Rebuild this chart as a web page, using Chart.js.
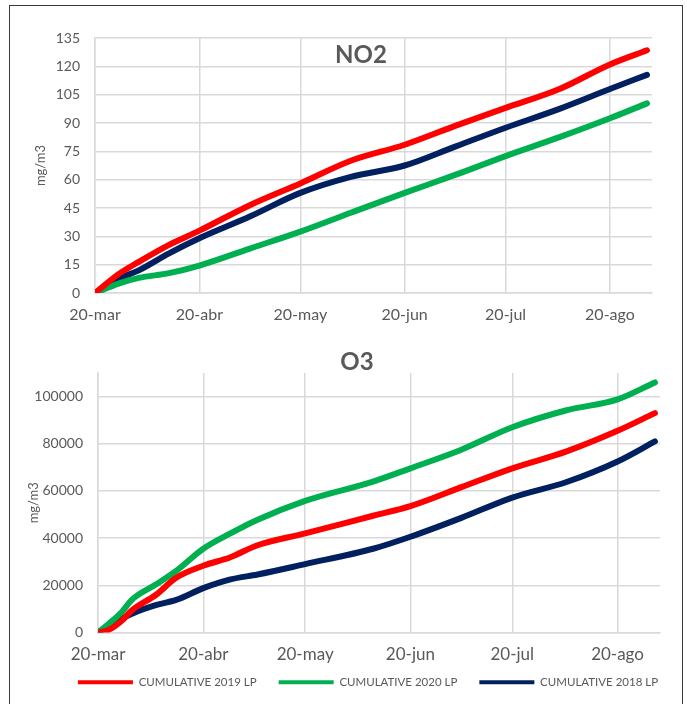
<!DOCTYPE html>
<html>
<head>
<meta charset="utf-8">
<script src="https://cdn.jsdelivr.net/npm/chart.js@4.4.1/dist/chart.umd.min.js"></script>
<style>
  html, body { margin: 0; padding: 0; background: #fff; overflow: hidden; width: 687px; height: 704px; }
  #frame { position: absolute; left: 9px; top: 5px; width: 674px; height: 720px; border: 1px solid #3a3a3a; box-sizing: border-box; z-index: 2; pointer-events: none; }
  #no2 { position: absolute; left: 0; top: 0; }
  #o3 { position: absolute; left: 0; top: 335px; }
</style>
</head>
<body>
<div id="frame"></div>
<canvas id="no2" width="687" height="335"></canvas>
<canvas id="o3" width="687" height="380"></canvas>
<script>
// x axis: days counted from 20-mar
const tickDays = [0, 31, 61, 92, 122, 153];
const tickLabels = ['20-mar', '20-abr', '20-may', '20-jun', '20-jul', '20-ago'];

// NO2
const no2Days = [0, 7, 13, 22, 31, 46, 61, 76, 92, 107, 122, 138, 153, 164];
const no2_2019 = [0, 10, 16.5, 25.5, 33, 46.5, 58, 70, 78.5, 88.5, 98, 108, 121, 128.5];
const no2_2020 = [0, 5, 8, 10.5, 14.5, 23.5, 32.5, 42.5, 53, 62.5, 72.5, 82.5, 92.5, 100.4];
const no2_2018 = [0, 7.5, 12, 21, 29, 40.5, 53, 61.5, 67.5, 77.5, 87.5, 97.5, 108, 115.5];
const no2Ticks = [0, 15, 30, 45, 60, 75, 90, 105, 120, 135];

// O3
const o3Days = [0, 3, 7, 10, 17, 23, 31, 39, 47, 61, 81, 92, 107, 122, 138, 153, 164];
const o3_2019 = [0, 1000, 5000, 9400, 15900, 23200, 28300, 31900, 37000, 42000, 49500, 53600, 61600, 69600, 76800, 85500, 93000];
const o3_2020 = [0, 3500, 8700, 13900, 20300, 26100, 35500, 42000, 47800, 55800, 64000, 69600, 77500, 87000, 94200, 98800, 106000];
const o3_2018 = [0, 2800, 5800, 8000, 11600, 13800, 18800, 22500, 24600, 29000, 35500, 40600, 48600, 57200, 63800, 72500, 81000];
const o3Ticks = [0, 20000, 40000, 60000, 80000, 100000];

const seriesNames = ['CUMULATIVE 2019 LP', 'CUMULATIVE 2020 LP', 'CUMULATIVE 2018 LP'];
const seriesColors = ['#ff0000', '#00b050', '#002060'];

const GRID = '#d9d9d9';
const TXT = '#595959';

const innerTitle = {
  id: 'innerTitle',
  afterDraw(chart, args, opts) {
    const ctx = chart.ctx;
    ctx.save();
    ctx.font = 'bold 24px Lato';
    ctx.fillStyle = TXT;
    ctx.textAlign = 'center';
    ctx.textBaseline = 'middle';
    ctx.fillText(opts.text, opts.x, opts.y);
    ctx.restore();
  }
};

// tick labels are clipped to their scale box, so give them room after layout;
// also nudge the legend to sit where the original has it
const labelRoom = {
  id: 'labelRoom',
  afterLayout(chart, args, opts) {
    chart.scales.y.left = 0;
    chart.scales.x.bottom = chart.scales.x.top + 40;
    if (chart.legend) {
      chart.legend.left += opts.legendShift;
      chart.legend.right += opts.legendShift;
    }
  }
};

function makeDatasets(days, lists) {
  return lists.map((vals, i) => ({
    label: seriesNames[i],
    data: days.map((d, j) => ({ x: d, y: vals[j] })),
    borderColor: seriesColors[i],
    backgroundColor: seriesColors[i],
    borderWidth: 6,
    pointRadius: 0,
    cubicInterpolationMode: 'monotone',
    borderCapStyle: 'round'
  }));
}

function xScale(fontSize, h) {
  return {
    type: 'linear', min: 0, max: 165.5,
    afterBuildTicks: s => { s.ticks = tickDays.map(v => ({ value: v })); },
    afterFit: s => { s.height = h; },
    grid: { color: GRID, lineWidth: 1.5, drawTicks: false },
    border: { color: GRID, width: 1.5 },
    ticks: {
      padding: 12, color: TXT, autoSkip: false, maxRotation: 0,
      font: { family: 'Lato', size: fontSize },
      callback: v => tickLabels[tickDays.indexOf(v)]
    }
  };
}

function yScale(max, tickVals, w, titlePad) {
  return {
    min: 0, max: max,
    afterBuildTicks: s => { s.ticks = tickVals.map(v => ({ value: v })); },
    afterFit: s => { s.width = w; },
    grid: { color: GRID, lineWidth: 1.5, drawTicks: false },
    border: { color: GRID, width: 1.5 },
    ticks: { padding: 15, color: TXT, font: { family: 'Lato', size: 14 }, callback: v => String(v) },
    title: { display: true, text: 'mg/m3', color: TXT, font: { family: 'Lato', size: 13 }, padding: { top: titlePad, bottom: 0 } }
  };
}

new Chart(document.getElementById('no2'), {
  type: 'line',
  data: { datasets: makeDatasets(no2Days, [no2_2019, no2_2020, no2_2018]) },
  plugins: [innerTitle],
  options: {
    responsive: false,
    animation: false,
    layout: { padding: { top: 38, right: 35, left: 0, bottom: 0 } },
    plugins: {
      legend: { display: false },
      tooltip: { enabled: false },
      innerTitle: { text: 'NO2', x: 361, y: 55 }
    },
    scales: { x: xScale(16, 42), y: yScale(135, no2Ticks, 95, 33) }
  }
});

new Chart(document.getElementById('o3'), {
  type: 'line',
  data: { datasets: makeDatasets(o3Days, [o3_2019, o3_2020, o3_2018]) },
  plugins: [innerTitle, labelRoom],
  options: {
    responsive: false,
    animation: false,
    layout: { padding: { top: 38, right: 27, left: 0, bottom: 17 } },
    plugins: {
      tooltip: { enabled: false },
      innerTitle: { text: 'O3', x: 357, y: 27 },
      labelRoom: { legendShift: 38 },
      legend: {
        position: 'bottom',
        labels: {
          boxWidth: 55, boxHeight: 4, padding: 22, color: TXT,
          font: { family: 'Lato', size: 11.5 },
          generateLabels: chart => Chart.defaults.plugins.legend.labels.generateLabels(chart)
            .map(l => Object.assign(l, { lineWidth: 0 }))
        }
      }
    },
    scales: { x: xScale(17, 22), y: yScale(110000, o3Ticks, 98, 26) }
  }
});
</script>
</body>
</html>
